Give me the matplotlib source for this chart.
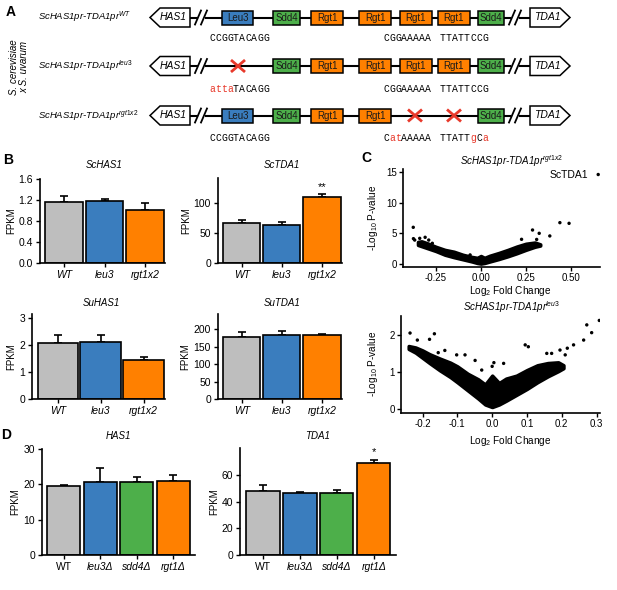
import matplotlib
matplotlib.use('Agg')
import matplotlib.pyplot as plt
from matplotlib.patches import Polygon, Rectangle
import numpy as np

plt.rcParams['font.family'] = ['Liberation Sans', 'DejaVu Sans']
plt.rcParams['mathtext.fontset'] = 'custom'
plt.rcParams['mathtext.rm'] = 'Liberation Sans'
plt.rcParams['mathtext.it'] = 'Liberation Sans:italic'
plt.rcParams['axes.unicode_minus'] = False

# ---------------- data ----------------
b_groups = ['WT', 'leu3', 'rgt1x2']
sc_has1 = [1.16, 1.19, 1.01]
sc_has1_err = [0.11, 0.03, 0.13]
sc_tda1 = [67, 63, 110]
sc_tda1_err = [5, 5, 6]
su_has1 = [2.06, 2.10, 1.44]
su_has1_err = [0.33, 0.27, 0.11]
su_tda1 = [178, 183, 184]
su_tda1_err = [13, 11, 3]

d_groups = ['WT', 'leu3Δ', 'sdd4Δ', 'rgt1Δ']
d_has1 = [19.6, 20.7, 20.6, 21.0]
d_has1_err = [0.3, 3.9, 1.4, 1.7]
d_tda1 = [48.0, 46.3, 46.0, 69.0]
d_tda1_err = [4.0, 0.8, 2.5, 2.2]

# volcano 1 (rgt1x2): dense cloud envelope + outliers
v1_x = [-0.35, -0.33, -0.30, -0.25, -0.20, -0.15, -0.10, -0.05, -0.02, 0.0, 0.02, 0.05, 0.10, 0.15, 0.20, 0.25, 0.30, 0.33]
v1_hi = [3.6, 3.7, 3.4, 2.8, 2.3, 2.0, 1.5, 1.15, 1.0, 1.3, 1.0, 1.35, 1.8, 2.3, 2.85, 3.3, 3.5, 3.2]
v1_lo = [3.1, 2.9, 2.6, 2.1, 1.5, 1.1, 0.75, 0.4, 0.15, 0.05, 0.15, 0.4, 0.8, 1.25, 1.75, 2.3, 2.8, 3.0]
v1_px = [0.652, -0.376, -0.375, -0.368, -0.34, -0.31, -0.27, 0.287, 0.324, 0.383, 0.439, 0.49, 0.226, -0.06, -0.29, 0.31]
v1_py = [14.6, 5.98, 4.13, 3.9, 4.18, 4.35, 3.37, 5.54, 5.0, 4.57, 6.74, 6.63, 4.02, 1.47, 3.9, 4.0]

# volcano 2 (leu3)
v2_x = [-0.24, -0.22, -0.20, -0.18, -0.15, -0.12, -0.10, -0.07, -0.04, -0.02, 0.0, 0.02, 0.04, 0.07, 0.10, 0.13, 0.16, 0.19, 0.205]
v2_hi = [1.7, 1.66, 1.58, 1.48, 1.36, 1.25, 1.15, 0.95, 0.8, 0.66, 0.9, 0.7, 0.82, 0.9, 1.05, 1.18, 1.24, 1.26, 1.18]
v2_lo = [1.62, 1.52, 1.38, 1.24, 1.04, 0.86, 0.72, 0.5, 0.28, 0.12, 0.05, 0.12, 0.22, 0.38, 0.54, 0.72, 0.88, 1.02, 1.1]
v2_px = [-0.236, -0.215, -0.18, -0.166, -0.155, -0.136, -0.102, -0.078, -0.049, -0.03, 0.033, 0.095, 0.104, 0.157, 0.171, 0.195, 0.216, 0.21, 0.234, 0.263, 0.272, 0.286, 0.308, 0.0, 0.005]
v2_py = [2.05, 1.86, 1.88, 2.03, 1.52, 1.58, 1.46, 1.46, 1.31, 1.05, 1.23, 1.73, 1.68, 1.5, 1.5, 1.59, 1.64, 1.46, 1.73, 1.86, 2.27, 2.06, 2.39, 1.15, 1.25]

GREY = '#BEBEBE'; BLUE = '#3A7DBE'; GREEN = '#4DAF4A'; ORANGE = '#FF8000'; RED = '#E8392B'
b_colors = [GREY, BLUE, ORANGE]
d_colors = [GREY, BLUE, GREEN, ORANGE]

W, H = 617, 590
fig = plt.figure(figsize=(W / 100, H / 100), dpi=100)

ov = fig.add_axes([0, 0, 1, 1])
ov.set_xlim(0, W); ov.set_ylim(H, 0); ov.axis('off')


def add_ax(l, t, r, b):
    return fig.add_axes([l / W, 1 - b / H, (r - l) / W, (b - t) / H])


def style(ax, fs=7.5, pad=2):
    for s in ['top', 'right']:
        ax.spines[s].set_visible(False)
    for s in ['left', 'bottom']:
        ax.spines[s].set_linewidth(1.2)
    ax.tick_params(direction='out', length=3, width=1.0, labelsize=fs, pad=pad)
    ax.patch.set_alpha(0)


def bar_panel(rect, vals, errs, colors, labels, xlim, ylim, yticks, fmt, width, label_italic):
    ax = add_ax(*rect)
    x = np.arange(len(vals))
    ax.errorbar(x, vals, yerr=[np.zeros(len(vals)), errs], fmt='none', ecolor='k',
                elinewidth=1.2, capsize=3, capthick=1.2, zorder=1)
    ax.bar(x, vals, width=width, color=colors, edgecolor='k', linewidth=1.2, zorder=2)
    ax.set_xlim(*xlim); ax.set_ylim(*ylim)
    ax.set_yticks(yticks)
    ax.set_yticklabels([fmt % v for v in yticks])
    ax.set_xticks(x)
    ax.set_xticklabels(labels)
    for lab, it in zip(ax.get_xticklabels(), label_italic):
        lab.set_style('italic' if it else 'normal')
    style(ax)
    return ax


# ---------------- Panel A ----------------
ov.text(11, 12, 'A', fontsize=10, fontweight='bold', ha='center', va='center')
ov.text(19, 67, 'S. cerevisiae\nx S. uvarum', rotation=90, ha='center', va='center',
        style='italic', fontsize=7, linespacing=1.1, multialignment='center')

rows_y = [17.5, 66, 115.5]
row_labels = ['ScHAS1pr-TDA1pr$^{\\mathit{WT}}$', 'ScHAS1pr-TDA1pr$^{\\mathit{leu3}}$',
              'ScHAS1pr-TDA1pr$^{\\mathit{rgt1x2}}$']
box_defs = [('Leu3', 222, 253, BLUE), ('Sdd4', 273, 300, GREEN), ('Rgt1', 311, 343, ORANGE),
            ('Rgt1', 359, 391, ORANGE), ('Rgt1', 400, 432, ORANGE), ('Rgt1', 438, 470, ORANGE),
            ('Sdd4', 478, 504, GREEN)]
row_missing = [[], [0], [4, 5]]
row_x = [[], [238], [415, 454]]

for yi, lab, miss, xs in zip(rows_y, row_labels, row_missing, row_x):
    ov.text(38, yi, lab, style='italic', fontsize=6.8, ha='left', va='center')
    ov.plot([190, 197], [yi, yi], color='k', lw=1.5, zorder=1)
    ov.plot([206, 510], [yi, yi], color='k', lw=1.5, zorder=1)
    ov.plot([520, 530], [yi, yi], color='k', lw=1.5, zorder=1)
    for sx in [195, 201, 509, 515]:
        ov.plot([sx, sx + 6], [yi + 7, yi - 7], color='k', lw=1.3, zorder=3)
    ov.add_patch(Polygon([(150, yi), (160, yi - 9.5), (190, yi - 9.5), (190, yi + 9.5), (160, yi + 9.5)],
                         closed=True, fc='white', ec='k', lw=1.1, zorder=2))
    ov.text(173, yi, 'HAS1', style='italic', fontsize=7.5, ha='center', va='center', zorder=4)
    ov.add_patch(Polygon([(530, yi - 9.5), (560, yi - 9.5), (570, yi), (560, yi + 9.5), (530, yi + 9.5)],
                         closed=True, fc='white', ec='k', lw=1.1, zorder=2))
    ov.text(547, yi, 'TDA1', style='italic', fontsize=7.5, ha='center', va='center', zorder=4)
    for i, (name, x0, x1, c) in enumerate(box_defs):
        if i in miss:
            continue
        ov.add_patch(Rectangle((x0, yi - 7), x1 - x0, 14, fc=c, ec='k', lw=1.1, zorder=2))
        ov.text((x0 + x1) / 2, yi + 0.3, name, fontsize=7, ha='center', va='center', color='#1a1a1a', zorder=4)
    for xx in xs:
        ov.plot([xx - 7, xx + 7], [yi - 6, yi + 6], color=RED, lw=2.0, zorder=4, solid_capstyle='butt')
        ov.plot([xx - 7, xx + 7], [yi + 6, yi - 6], color=RED, lw=2.0, zorder=4, solid_capstyle='butt')

seq_rows = [
    (38, [(209, [('CCGGTACAGG', 'k')]), (383, [('CGGAAAAA', 'k')]), (440, [('TTATTCCG', 'k')])]),
    (88.5, [(209, [('atta', RED), ('TACAGG', 'k')]), (383, [('CGGAAAAA', 'k')]), (440, [('TTATTCCG', 'k')])]),
    (138, [(209, [('CCGGTACAGG', 'k')]), (383, [('C', 'k'), ('at', RED), ('AAAAA', 'k')]),
           (440, [('TTATT', 'k'), ('g', RED), ('C', 'k'), ('a', RED)])]),
]
cw = 6.0
for ys, groups in seq_rows:
    for x0, segs in groups:
        i = 0
        for s, c in segs:
            for ch in s:
                ov.text(x0 + i * cw + cw / 2, ys, ch, family='Liberation Mono', fontsize=7,
                        ha='center', va='center', color=c)
                i += 1

# ---------------- Panel B ----------------
ov.text(8, 160, 'B', fontsize=10, fontweight='bold', ha='center', va='center')
bar_panel((40, 179, 165, 263), sc_has1, sc_has1_err, b_colors, b_groups, (-0.6, 2.5), (0, 1.6),
          [0.0, 0.4, 0.8, 1.2, 1.6], '%.1f', 0.94, [True] * 3)
ax_sct = bar_panel((218, 178, 342, 263), sc_tda1, sc_tda1_err, b_colors, b_groups, (-0.59, 2.5), (0, 142),
                   [0, 50, 100], '%d', 0.93, [True] * 3)
ax_sct.text(2, sc_tda1[2] + sc_tda1_err[2] + 3, '**', ha='center', va='bottom', fontsize=8)
bar_panel((32, 314, 165, 399), su_has1, su_has1_err, b_colors, b_groups, (-0.6, 2.5), (0, 3.15),
          [0, 1, 2, 3], '%d', 0.94, [True] * 3)
bar_panel((218, 314, 342, 399), su_tda1, su_tda1_err, b_colors, b_groups, (-0.59, 2.5), (0, 243),
          [0, 50, 100, 150, 200], '%d', 0.93, [True] * 3)

for (tx, ty, t) in [(104, 165, 'ScHAS1'), (282, 165, 'ScTDA1'), (101, 303, 'SuHAS1'), (282, 303, 'SuTDA1')]:
    ov.text(tx, ty, t, style='italic', fontsize=7, ha='center', va='center')
for (fx, fy) in [(11, 221), (186, 221), (11, 357), (185, 357)]:
    ov.text(fx, fy, 'FPKM', rotation=90, fontsize=7, ha='center', va='center')

# ---------------- Panel C ----------------
ov.text(366, 158, 'C', fontsize=10, fontweight='bold', ha='center', va='center')
axv1 = add_ax(403, 169, 600, 267)
axv1.fill_between(v1_x, v1_lo, v1_hi, facecolor='k', edgecolor='k', lw=2.5)
axv1.scatter(v1_px, v1_py, s=6, color='k', edgecolors='none')
axv1.set_xlim(-0.433, 0.662); axv1.set_ylim(-0.5, 15.5)
axv1.set_xticks([-0.25, 0.0, 0.25, 0.5]); axv1.set_xticklabels(['-0.25', '0.00', '0.25', '0.50'])
axv1.set_yticks([0, 5, 10, 15])
axv1.annotate('ScTDA1', xy=(v1_px[0], v1_py[0]), xytext=(-7, 0), textcoords='offset points',
              ha='right', va='center', fontsize=7.5)
style(axv1, 7, pad=1.5)

axv2 = add_ax(401, 316, 600, 413)
axv2.fill_between(v2_x, v2_lo, v2_hi, facecolor='k', edgecolor='k', lw=2.5)
axv2.scatter(v2_px, v2_py, s=6, color='k', edgecolors='none')
axv2.set_xlim(-0.262, 0.31); axv2.set_ylim(-0.11, 2.51)
axv2.set_xticks([-0.2, -0.1, 0.0, 0.1, 0.2, 0.3])
axv2.set_xticklabels(['-0.2', '-0.1', '0.0', '0.1', '0.2', '0.3'])
axv2.set_yticks([0, 1, 2])
style(axv2, 7, pad=1.5)

ov.text(512, 161, 'ScHAS1pr-TDA1pr$^{\\mathit{rgt1x2}}$', style='italic', fontsize=7, ha='center', va='center')
ov.text(512, 307, 'ScHAS1pr-TDA1pr$^{\\mathit{leu3}}$', style='italic', fontsize=7, ha='center', va='center')
ov.text(510, 291, 'Log$_2$ Fold Change', fontsize=7.2, ha='center', va='center')
ov.text(510, 441, 'Log$_2$ Fold Change', fontsize=7.2, ha='center', va='center')
ov.text(373, 218, '-Log$_{10}$ P-value', rotation=90, fontsize=7.2, ha='center', va='center')
ov.text(373, 364, '-Log$_{10}$ P-value', rotation=90, fontsize=7.2, ha='center', va='center')

# ---------------- Panel D ----------------
ov.text(6, 435, 'D', fontsize=10, fontweight='bold', ha='center', va='center')
bar_panel((42, 449, 195, 555), d_has1, d_has1_err, d_colors, d_groups, (-0.6, 3.6), (0, 30),
          [0, 10, 20, 30], '%d', 0.9, [False, True, True, True])
ax_dt = bar_panel((240, 448, 396, 555), d_tda1, d_tda1_err, d_colors, d_groups, (-0.62, 3.6), (0, 80),
                  [0, 20, 40, 60], '%d', 0.9, [False, True, True, True])
ax_dt.text(3, d_tda1[3] + d_tda1_err[3] + 2, '*', ha='center', va='bottom', fontsize=8)
ov.text(118, 436, 'HAS1', style='italic', fontsize=7, ha='center', va='center')
ov.text(318, 436, 'TDA1', style='italic', fontsize=7, ha='center', va='center')
ov.text(15, 502, 'FPKM', rotation=90, fontsize=7, ha='center', va='center')
ov.text(214, 502, 'FPKM', rotation=90, fontsize=7, ha='center', va='center')

fig.savefig('out.png', dpi=100)
